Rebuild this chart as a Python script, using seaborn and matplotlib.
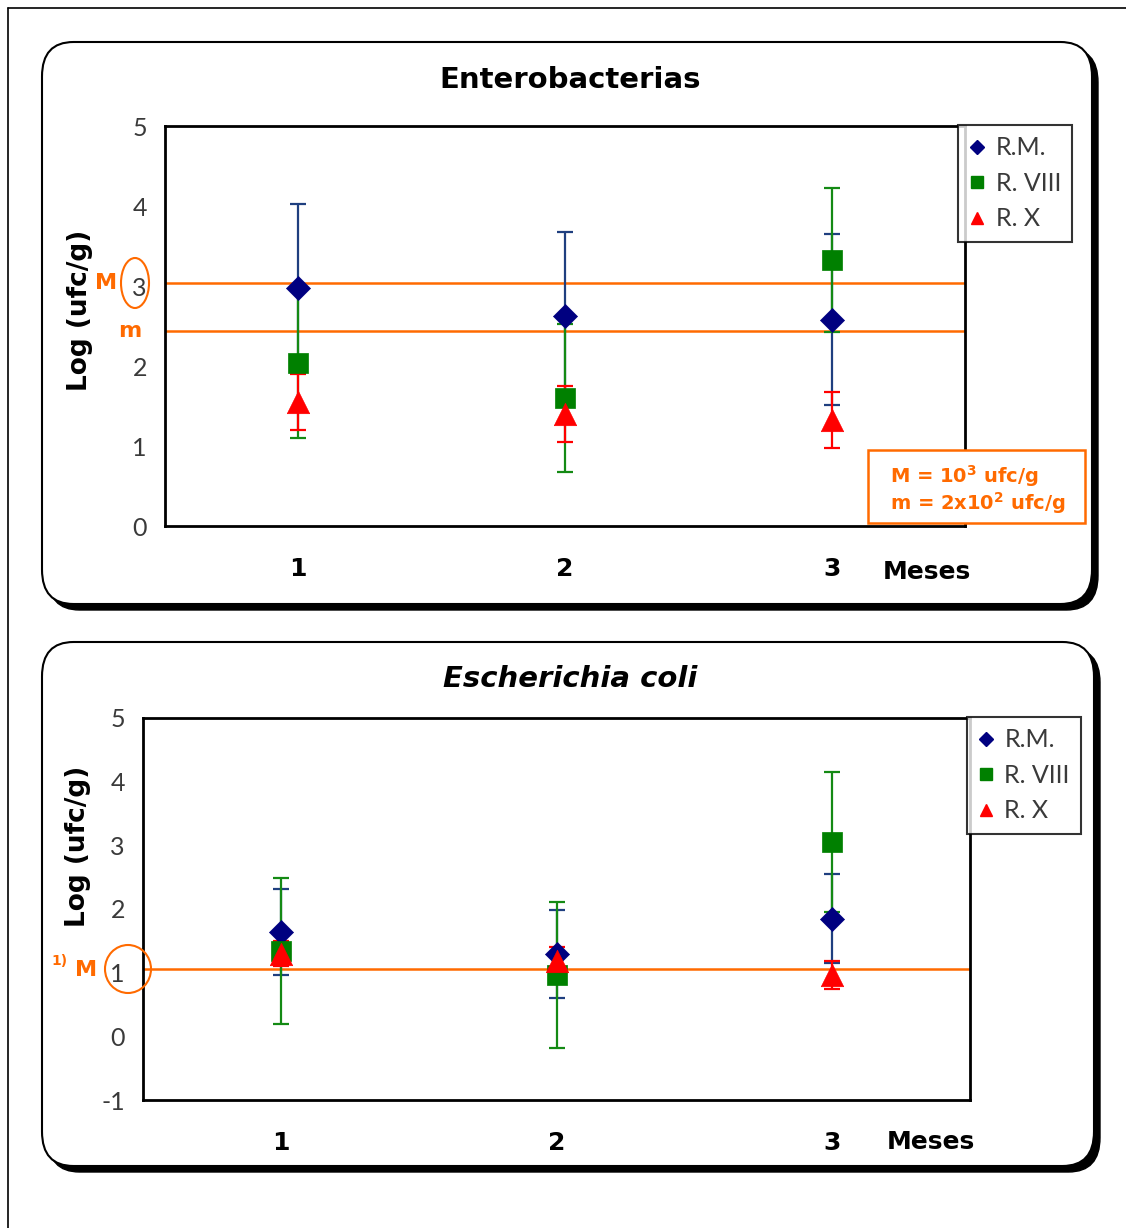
import matplotlib
matplotlib.use("Agg")
import matplotlib.pyplot as plt
import seaborn as sns
import pandas as pd
from matplotlib.patches import FancyBboxPatch, Rectangle, Ellipse
from matplotlib.lines import Line2D

W, H = 1126, 1228

meses = [1, 2, 3]
series = ["R.M.", "R. VIII", "R. X"]

# Enterobacterias: media y desviación (log ufc/g)
ent_rm = [2.98, 2.63, 2.58]
ent_rm_err = [1.04, 1.04, 1.07]
ent_r8 = [2.04, 1.60, 3.32]
ent_r8_err = [0.94, 0.92, 0.90]
ent_rx = [1.55, 1.40, 1.32]
ent_rx_err = [0.35, 0.35, 0.35]
ent_M = 3.04
ent_m = 2.44

# Escherichia coli
coli_rm = [1.64, 1.29, 1.85]
coli_rm_err = [0.68, 0.69, 0.70]
coli_r8 = [1.34, 0.96, 3.05]
coli_r8_err = [1.15, 1.15, 1.10]
coli_rx = [1.30, 1.19, 0.97]
coli_rx_err = [0.20, 0.22, 0.22]
coli_M = 1.06

ORANGE = "#FF6A00"
TICK_GREY = "#3a3a3a"
marker_colors = {"R.M.": "#000080", "R. VIII": "#008000", "R. X": "#FF0000"}
err_colors = {"R.M.": "#1F3F7F", "R. VIII": "#148A14", "R. X": "#FF0000"}
markers = {"R.M.": "D", "R. VIII": "s", "R. X": "^"}
sizes = {"R.M.": 150, "R. VIII": 190, "R. X": 260}


def fx(px):
    return px / W


def fy(py):
    return 1 - py / H


def make_df(rm, rm_e, r8, r8_e, rx, rx_e):
    frames = []
    for name, vals, errs in [("R.M.", rm, rm_e), ("R. VIII", r8, r8_e), ("R. X", rx, rx_e)]:
        frames.append(pd.DataFrame({"mes": meses, "valor": vals, "err": errs, "serie": name}))
    return pd.concat(frames, ignore_index=True)


def caja(fig, x0, y0, x1, y1):
    sh = FancyBboxPatch((fx(x0 + 6), fy(y1 + 6)), fx(x1 - x0), (y1 - y0) / H,
                        boxstyle="round,pad=0,rounding_size=0.028",
                        transform=fig.transFigure, facecolor="black", edgecolor="black", zorder=-3)
    bx = FancyBboxPatch((fx(x0), fy(y1)), fx(x1 - x0), (y1 - y0) / H,
                        boxstyle="round,pad=0,rounding_size=0.028",
                        transform=fig.transFigure, facecolor="white", edgecolor="black",
                        linewidth=1.5, zorder=-2)
    fig.add_artist(sh)
    fig.add_artist(bx)


def panel(fig, ax, df, ylim, yticks, legend_xy, label_xy):
    for s in series:
        g = df[df["serie"] == s]
        ax.errorbar(g["mes"], g["valor"], yerr=g["err"], fmt="none", ecolor=err_colors[s],
                    elinewidth=1.6, capsize=6, capthick=1.6, zorder=3)
    for s in series:
        g = df[df["serie"] == s]
        sns.scatterplot(data=g, x="mes", y="valor", marker=markers[s], color=marker_colors[s],
                        s=sizes[s], edgecolor=marker_colors[s], linewidth=0.5, ax=ax,
                        zorder=4, legend=False)
    ax.set_xlim(0.5, 3.5)
    ax.set_ylim(*ylim)
    ax.set_yticks(yticks)
    ax.set_yticklabels([str(t) for t in yticks], fontsize=18, color=TICK_GREY, fontfamily="Lato")
    ax.set_xticks([0.5, 1.5, 2.5, 3.5])
    ax.set_xticklabels([])
    ax.set_xticks(meses, minor=True)
    ax.set_xticklabels(["1", "2", "3"], minor=True, fontsize=18, fontweight="bold", color="black")
    ax.tick_params(axis="x", which="major", direction="out", length=7, width=1.5, color="black")
    ax.tick_params(axis="x", which="minor", length=0, pad=22)
    ax.tick_params(axis="y", direction="out", length=7, width=1.5, pad=6, color="black")
    for sp in ax.spines.values():
        sp.set_visible(True)
        sp.set_color("black")
        sp.set_linewidth(2)
    ax.set_xlabel("")
    ax.set_ylabel("Log (ufc/g)", fontsize=19, fontweight="bold", color="black")
    ax.yaxis.set_label_coords(*label_xy)
    handles = [Line2D([0], [0], marker=markers[s], color="none", markerfacecolor=marker_colors[s],
                      markeredgecolor=marker_colors[s], markersize=9 if s != "R.M." else 7,
                      label=s) for s in series]
    leg = ax.legend(handles=handles, loc="upper left", bbox_to_anchor=legend_xy,
                    bbox_transform=fig.transFigure, frameon=True, fancybox=False,
                    borderaxespad=0, handlelength=0.6, handletextpad=0.45, borderpad=0.45,
                    labelspacing=0.5, prop={"family": "Lato", "size": 18})
    leg.get_frame().set_edgecolor("black")
    leg.get_frame().set_linewidth(1.5)
    for t in leg.get_texts():
        t.set_color(TICK_GREY)


def main():
    sns.set_theme(style="white")
    plt.rcParams["font.family"] = ["DejaVu Sans"]
    plt.rcParams["text.color"] = "black"
    fig = plt.figure(figsize=(W / 100, H / 100), dpi=100)

    # marco de la página
    fig.add_artist(Line2D([fx(8), fx(8)], [fy(8), 0], color="black", lw=1.2, transform=fig.transFigure))
    fig.add_artist(Line2D([fx(8), 1], [fy(8), fy(8)], color="black", lw=1.2, transform=fig.transFigure))

    caja(fig, 42, 42, 1092, 604)
    caja(fig, 42, 642, 1094, 1166)

    # Enterobacterias
    ax1 = fig.add_axes([fx(165), fy(526), fx(800), 400 / H])
    df1 = make_df(ent_rm, ent_rm_err, ent_r8, ent_r8_err, ent_rx, ent_rx_err)
    ax1.axhline(ent_M, color=ORANGE, lw=1.8, zorder=2)
    ax1.axhline(ent_m, color=ORANGE, lw=1.8, zorder=2)
    panel(fig, ax1, df1, (0, 5), [0, 1, 2, 3, 4, 5], (fx(958), fy(125)),
          ((93 - 165) / 800, (526 - 310) / 400))
    fig.text(fx(570), fy(80), "Enterobacterias", ha="center", va="center", fontsize=21, fontweight="bold")
    fig.text(fx(927), fy(572), "Meses", ha="center", va="center", fontsize=18, fontweight="bold")
    fig.text(fx(106), fy(283), "M", ha="center", va="center", fontsize=16, fontweight="bold", color=ORANGE)
    fig.text(fx(130), fy(331), "m", ha="center", va="center", fontsize=16, fontweight="bold", color=ORANGE)
    fig.add_artist(Ellipse((fx(135), fy(283)), fx(28), 50 / H, transform=fig.transFigure,
                           facecolor="none", edgecolor=ORANGE, lw=1.5, zorder=6))
    fig.add_artist(Rectangle((fx(868), fy(523)), fx(217), 73 / H, transform=fig.transFigure,
                             facecolor="white", edgecolor=ORANGE, lw=1.8, zorder=6))
    fig.text(fx(890), fy(476), r"M = 10$^{\mathbf{3}}$ ufc/g", ha="left", va="center",
             fontsize=14, fontweight="bold", color=ORANGE, zorder=7)
    fig.text(fx(890), fy(503), r"m = 2x10$^{\mathbf{2}}$ ufc/g", ha="left", va="center",
             fontsize=14, fontweight="bold", color=ORANGE, zorder=7)

    # Escherichia coli
    ax2 = fig.add_axes([fx(143), fy(1100), fx(827), 382 / H])
    df2 = make_df(coli_rm, coli_rm_err, coli_r8, coli_r8_err, coli_rx, coli_rx_err)
    ax2.axhline(coli_M, color=ORANGE, lw=1.8, zorder=2)
    panel(fig, ax2, df2, (-1, 5), [-1, 0, 1, 2, 3, 4, 5], (fx(967), fy(717)),
          ((91 - 143) / 827, (1100 - 846) / 382))
    fig.text(fx(570), fy(679), "Escherichia coli", ha="center", va="center", fontsize=21,
             fontweight="bold", fontstyle="italic")
    fig.text(fx(931), fy(1142), "Meses", ha="center", va="center", fontsize=18, fontweight="bold")
    fig.text(fx(60), fy(961), "1)", ha="center", va="center", fontsize=10, fontweight="bold", color=ORANGE)
    fig.text(fx(86), fy(970), "M", ha="center", va="center", fontsize=16, fontweight="bold", color=ORANGE)
    fig.add_artist(Ellipse((fx(128), fy(969)), fx(46), 48 / H, transform=fig.transFigure,
                           facecolor="none", edgecolor=ORANGE, lw=1.5, zorder=6))

    fig.savefig("out.png", dpi=100)
    plt.close(fig)


if __name__ == "__main__":
    main()
